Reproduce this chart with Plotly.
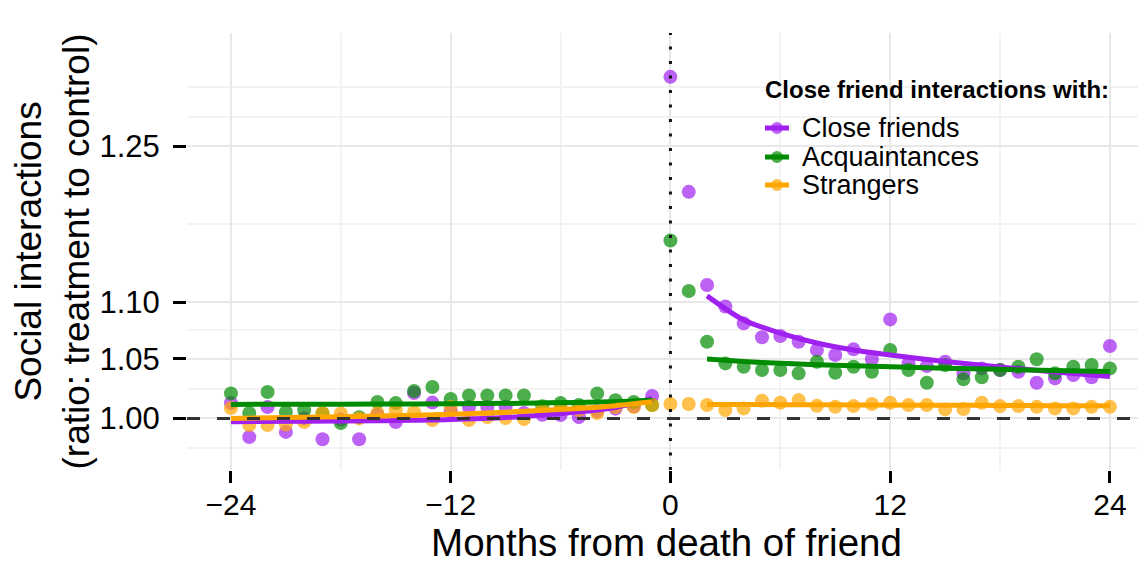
import plotly.graph_objects as go

# ---------------- data ----------------
months = list(range(-24, 25))

close_friends = [
    1.0126, 0.9848, 1.0093, 0.9890, 1.0000, 0.9830, 0.9990, 0.9830, 1.0030, 0.9970,
    1.0210, 1.0130, 1.0060, 1.0093, 1.0093, 1.0096, 1.0044, 1.0030, 1.0027, 1.0010,
    1.0060, 1.0080, 1.0100, 1.0185,
    1.3230,
    1.2040, 1.1155, 1.0960, 1.0810, 1.0687, 1.0698, 1.0648, 1.0576, 1.0533, 1.0582,
    1.0496, 1.0845, 1.0461, 1.0438, 1.0475, 1.0376, 1.0418, 1.0404, 1.0390, 1.0296,
    1.0333, 1.0361, 1.0342, 1.0611,
]

acquaintances = [
    1.0207, 1.0044, 1.0218, 1.0052, 1.0068, 1.0040, 0.9962, 1.0010, 1.0135, 1.0126,
    1.0227, 1.0260, 1.0160, 1.0190, 1.0190, 1.0190, 1.0190, 1.0100, 1.0126, 1.0110,
    1.0207, 1.0150, 1.0135, 1.0110,
    1.1570,
    1.1100, 1.0648, 1.0461, 1.0432, 1.0404, 1.0404, 1.0376, 1.0475, 1.0381, 1.0432,
    1.0390, 1.0576, 1.0404, 1.0296, 1.0447, 1.0325, 1.0342, 1.0404, 1.0432, 1.0496,
    1.0376, 1.0432, 1.0447, 1.0418,
]

strangers = [
    1.0085, 0.9946, 0.9946, 0.9950, 0.9970, 1.0044, 1.0040, 1.0000, 1.0044, 1.0068,
    1.0050, 0.9986, 1.0093, 0.9986, 1.0010, 1.0003, 0.9995, 1.0068, 1.0085, 1.0068,
    1.0044, 1.0093, 1.0093, 1.0110,
    1.0118,
    1.0118, 1.0110, 1.0068, 1.0082, 1.0145, 1.0129, 1.0151, 1.0104, 1.0095, 1.0101,
    1.0118, 1.0129, 1.0110, 1.0110, 1.0074, 1.0077, 1.0129, 1.0101, 1.0101, 1.0095,
    1.0082, 1.0082, 1.0095, 1.0095,
]

# fitted curves
fit_months_pre = [-24, -20, -16, -12, -8, -5, -3, -1]
fit_close_pre = [0.9972, 0.9977, 0.9981, 0.9990, 1.0016, 1.0054, 1.0090, 1.0165]
fit_acq_pre = [1.0115, 1.0117, 1.0118, 1.0120, 1.0125, 1.0132, 1.0138, 1.0150]
fit_str_pre = [1.0000, 1.0009, 1.0020, 1.0034, 1.0058, 1.0082, 1.0105, 1.0137]

fit_months_post = [2, 4, 6, 8, 10, 12, 15, 18, 21, 24]
fit_close_post = [1.1056, 1.0839, 1.0724, 1.0637, 1.0576, 1.0533, 1.0478, 1.0430, 1.0388, 1.0350]
fit_acq_post = [1.0498, 1.0478, 1.0462, 1.0450, 1.0440, 1.0432, 1.0420, 1.0410, 1.0400, 1.0392]
fit_str_post = [1.0115, 1.0114, 1.0113, 1.0112, 1.0111, 1.0110, 1.0108, 1.0107, 1.0105, 1.0104]

series_names = ["Close friends", "Acquaintances", "Strangers"]
legend_title = "Close friend interactions with:"
line_colors = ["#A020F0", "#008B00", "#FFA500"]

x_ticks = [-24, -12, 0, 12, 24]
x_minor = [-18, -6, 6, 18]
y_ticks = [1.00, 1.05, 1.10, 1.25]
y_ticktext = ["1.00", "1.05", "1.10", "1.25"]
y_minor = [0.9759, 1.0247, 1.0747, 1.1726, 1.2805, 1.3123]

# ---------------- figure ----------------
fig = go.Figure()

points = [close_friends, acquaintances, strangers]
for name, vals, col in zip(series_names, points, line_colors):
    fig.add_trace(go.Scatter(
        x=months, y=vals, mode="markers", showlegend=False,
        marker=dict(size=14, color=col, opacity=0.7, line=dict(width=0)),
        hoverinfo="skip", name=name,
    ))

fits = [
    (fit_close_pre, fit_close_post),
    (fit_acq_pre, fit_acq_post),
    (fit_str_pre, fit_str_post),
]
for name, (pre, post), col in zip(series_names, fits, line_colors):
    for fm, fv in ((fit_months_pre, pre), (fit_months_post, post)):
        fig.add_trace(go.Scatter(
            x=fm, y=fv, mode="lines", showlegend=False,
            line=dict(color=col, width=5, shape="spline", smoothing=0.8),
            hoverinfo="skip", name=name,
        ))

fig.add_shape(type="line", xref="paper", yref="y", x0=0, x1=1, y0=1, y1=1,
              line=dict(color="#333333", width=3, dash="13px,17px"), layer="above")
fig.add_shape(type="line", xref="x", yref="paper", x0=0, x1=0, y0=0, y1=1,
              line=dict(color="#111111", width=3, dash="3px,11.5px"), layer="above")

# ---- legend (drawn in paper coordinates) ----
leg_x_sym0, leg_x_sym1 = 0.6027, 0.6277
leg_x_text = 0.6392
leg_rows_y = [0.7826, 0.7162, 0.6522]
fig.add_annotation(text="<b>" + legend_title + "</b>", xref="paper", yref="paper",
                   x=0.6006, y=0.8696, xanchor="left", yanchor="middle",
                   showarrow=False, font=dict(size=24, color="black"))
for name, col, ry in zip(series_names, line_colors, leg_rows_y):
    xc = (leg_x_sym0 + leg_x_sym1) / 2
    fig.add_shape(type="circle", xref="paper", yref="paper",
                  xsizemode="pixel", ysizemode="pixel",
                  xanchor=xc, yanchor=ry, x0=-6, x1=6, y0=-6, y1=6,
                  fillcolor=col, opacity=0.7, line=dict(width=0), layer="above")
    fig.add_shape(type="line", xref="paper", yref="paper",
                  x0=leg_x_sym0, x1=leg_x_sym1, y0=ry, y1=ry,
                  line=dict(color=col, width=5), layer="above")
    fig.add_annotation(text=name, xref="paper", yref="paper",
                       x=leg_x_text, y=ry, xanchor="left", yanchor="middle",
                       showarrow=False, font=dict(size=27, color="black"))

fig.update_layout(
    width=1138, height=557,
    margin=dict(l=179, r=0, t=25, b=95),
    plot_bgcolor="white", paper_bgcolor="white",
    font=dict(family="Liberation Sans, Arial, sans-serif", color="black"),
    showlegend=False,
)

fig.update_xaxes(
    range=[-26.4, 25.97], tickvals=x_ticks, ticks="outside", ticklen=12,
    tickwidth=3, tickcolor="black", showline=False, zeroline=False,
    showgrid=True, gridcolor="#E8E8E8", gridwidth=2,
    minor=dict(tickvals=x_minor, showgrid=True, gridcolor="#F3F3F3", gridwidth=1.5, ticks=""),
    tickfont=dict(size=30, color="black"), ticklabelstandoff=-4,
    title=dict(text="Months from death of friend", font=dict(size=38.5, color="black"), standoff=2),
)

fig.update_yaxes(
    type="log", range=[-0.01837, 0.13716],
    tickvals=y_ticks, ticktext=y_ticktext, ticks="outside", ticklen=13,
    tickwidth=3, tickcolor="black", showline=False, zeroline=False,
    showgrid=True, gridcolor="#E8E8E8", gridwidth=2,
    minor=dict(tickvals=y_minor, showgrid=True, gridcolor="#F3F3F3", gridwidth=1.5, ticks=""),
    tickfont=dict(size=31, color="black"), ticklabelstandoff=7,
    title=dict(text="Social interactions<br>(ratio: treatment to control)",
               font=dict(size=37, color="black"), standoff=8),
)

fig.write_html("out.html")
